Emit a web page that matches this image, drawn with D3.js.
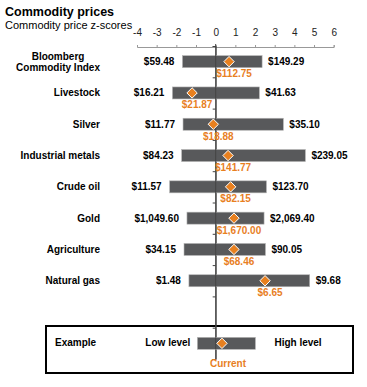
<!DOCTYPE html>
<html>
<head>
<meta charset="utf-8">
<script src="https://cdn.jsdelivr.net/npm/d3@7"></script>
<style>
  body { margin: 0; background: #fff; }
  svg { font-family: "Liberation Sans", Arial, sans-serif; }
</style>
</head>
<body>
<div class="chart"></div>
<script>
var svgWidth = 367;
var svgHeight = 387;

// chart values
var categories = ["Bloomberg\nCommodity Index", "Livestock", "Silver", "Industrial metals",
  "Crude oil", "Gold", "Agriculture", "Natural gas"];
var lowLabels = ["$59.48", "$16.21", "$11.77", "$84.23", "$11.57", "$1,049.60", "$34.15", "$1.48"];
var highLabels = ["$149.29", "$41.63", "$35.10", "$239.05", "$123.70", "$2,069.40", "$90.05", "$9.68"];
var currentLabels = ["$112.75", "$21.87", "$18.88", "$141.77", "$82.15", "$1,670.00", "$68.46", "$6.65"];
var lowZ = [-1.69, -2.20, -1.66, -1.73, -2.34, -1.46, -1.61, -1.36];
var highZ = [2.36, 2.22, 3.44, 4.56, 2.58, 2.46, 2.53, 4.78];
var currentZ = [0.68, -1.20, -0.12, 0.63, 0.76, 0.93, 0.93, 2.51];
var xTicks = [-4, -3, -2, -1, 0, 1, 2, 3, 4, 5, 6];

// example row
var exampleZ = { low: -0.93, high: 2.02, current: 0.32 };

var orange = "#e8801f";
var barGrey = "#58595b";

var svg = d3.select(".chart")
  .append("svg")
  .attr("width", svgWidth)
  .attr("height", svgHeight);

// titles
svg.append("text")
  .attr("x", 5).attr("y", 16)
  .attr("font-size", "12.5px").attr("font-weight", "bold")
  .text("Commodity prices");
svg.append("text")
  .attr("x", 5).attr("y", 29)
  .attr("font-size", "11px")
  .text("Commodity price z-scores");

// scales
var x = d3.scaleLinear().domain([-4, 6]).range([137, 333.7]);
var rows = categories.concat(["", "Example"]);
var y = d3.scaleBand().domain(d3.range(rows.length)).range([46, 359]).padding(0);
var yIdx = d3.scaleLinear().domain([0, rows.length]).range([46, 359]);
var barH = 12;

// top axis
var topAxis = svg.append("g")
  .attr("transform", "translate(0,47)")
  .call(d3.axisTop(x).tickValues(xTicks).tickSize(2).tickPadding(9)
    .tickFormat(d => String(d)));
topAxis.select(".domain").attr("stroke", "#999");
topAxis.selectAll(".tick line").attr("stroke", "#999");
topAxis.selectAll(".tick text")
  .attr("font-size", "10px")
  .attr("font-family", "Liberation Sans, Arial, sans-serif")
  .attr("fill", "#222");

// example box
svg.append("rect")
  .attr("x", 46).attr("y", 326)
  .attr("width", 307).attr("height", 47)
  .attr("fill", "none").attr("stroke", "#000").attr("stroke-width", 2);

// zero line with category ticks
var zeroAxis = svg.append("g")
  .attr("transform", `translate(${x(0)},0)`)
  .call(d3.axisLeft(yIdx).ticks(rows.length).tickSize(3).tickFormat(""));
zeroAxis.select(".domain").attr("stroke", "#444");
zeroAxis.selectAll(".tick line").attr("stroke", "#444");
svg.append("line")
  .attr("x1", x(0)).attr("x2", x(0))
  .attr("y1", 44).attr("y2", 47)
  .attr("stroke", "#444");

var data = categories.map(function(c, i) {
  return { name: c, lo: lowZ[i], hi: highZ[i], cur: currentZ[i],
    loL: lowLabels[i], hiL: highLabels[i], curL: currentLabels[i], i: i };
});

function cy(i) { return y(i) + y.bandwidth() / 2; }

function diamond(g, px, py) {
  var r = 5.2;
  g.append("path")
    .attr("d", `M${px},${py - r}L${px + r},${py}L${px},${py + r}L${px - r},${py}Z`)
    .attr("fill", orange)
    .attr("stroke", "#fff")
    .attr("stroke-width", 1);
}

// bars
svg.selectAll(".bar")
  .data(data)
  .enter()
  .append("rect")
  .attr("class", "bar")
  .attr("x", d => x(d.lo))
  .attr("y", d => cy(d.i) - barH / 2)
  .attr("width", d => x(d.hi) - x(d.lo))
  .attr("height", barH)
  .attr("fill", barGrey)
  .attr("stroke", "#b5b5b5")
  .attr("stroke-width", 0.6);

// redraw the zero line over the bars
svg.append("line")
  .attr("x1", x(0)).attr("x2", x(0))
  .attr("y1", 47).attr("y2", 359)
  .attr("stroke", "#444");

data.forEach(function(d) {
  diamond(svg, x(d.cur), cy(d.i));
});

// low / high labels
svg.selectAll(".lo")
  .data(data)
  .enter()
  .append("text")
  .attr("x", d => x(d.lo) - 8)
  .attr("y", d => cy(d.i) + 3.5)
  .attr("text-anchor", "end")
  .attr("font-size", "10px").attr("font-weight", "bold")
  .text(d => d.loL);

svg.selectAll(".hi")
  .data(data)
  .enter()
  .append("text")
  .attr("x", d => x(d.hi) + 6)
  .attr("y", d => cy(d.i) + 3.5)
  .attr("font-size", "10px").attr("font-weight", "bold")
  .text(d => d.hiL);

// current labels
svg.selectAll(".cur")
  .data(data)
  .enter()
  .append("text")
  .attr("x", d => x(d.cur) + 5)
  .attr("y", d => cy(d.i) + 15.5)
  .attr("text-anchor", "middle")
  .attr("font-size", "10px").attr("font-weight", "bold")
  .attr("fill", orange)
  .text(d => d.curL);

// category labels (multi-line centred on its own block, right edge at 100)
data.forEach(function(d) {
  var lines = d.name.split("\n");
  var t = svg.append("text")
    .attr("font-size", "10px").attr("font-weight", "bold");
  var spans = lines.map(function(l, k) {
    return t.append("tspan").text(l);
  });
  if (lines.length === 1) {
    t.attr("text-anchor", "end").attr("x", 100).attr("y", cy(d.i) + 3.5);
  } else {
    var w = d3.max(spans, s => s.node().getComputedTextLength());
    t.attr("text-anchor", "middle");
    spans.forEach(function(s, k) {
      s.attr("x", 100 - w / 2).attr("y", cy(d.i) - 2 + k * 11);
    });
  }
});

// example row
var ey = cy(rows.length - 1);
svg.append("rect")
  .attr("x", x(exampleZ.low))
  .attr("y", ey - barH / 2)
  .attr("width", x(exampleZ.high) - x(exampleZ.low))
  .attr("height", barH)
  .attr("fill", barGrey)
  .attr("stroke", "#b5b5b5")
  .attr("stroke-width", 0.6);
svg.append("line")
  .attr("x1", x(0)).attr("x2", x(0))
  .attr("y1", ey - barH / 2).attr("y2", ey + barH / 2)
  .attr("stroke", "#444");
diamond(svg, x(exampleZ.current), ey);

svg.append("text")
  .attr("x", 55).attr("y", ey + 3)
  .attr("font-size", "10px").attr("font-weight", "bold")
  .text("Example");
svg.append("text")
  .attr("x", x(exampleZ.low) - 7).attr("y", ey + 3)
  .attr("text-anchor", "end")
  .attr("font-size", "10px").attr("font-weight", "bold")
  .text("Low level");
svg.append("text")
  .attr("x", x(exampleZ.high) + 19).attr("y", ey + 3)
  .attr("font-size", "10px").attr("font-weight", "bold")
  .text("High  level");
svg.append("text")
  .attr("x", x(exampleZ.current) + 6).attr("y", ey + 24)
  .attr("text-anchor", "middle")
  .attr("font-size", "10px").attr("font-weight", "bold")
  .attr("fill", orange)
  .text("Current");
</script>
</body>
</html>
